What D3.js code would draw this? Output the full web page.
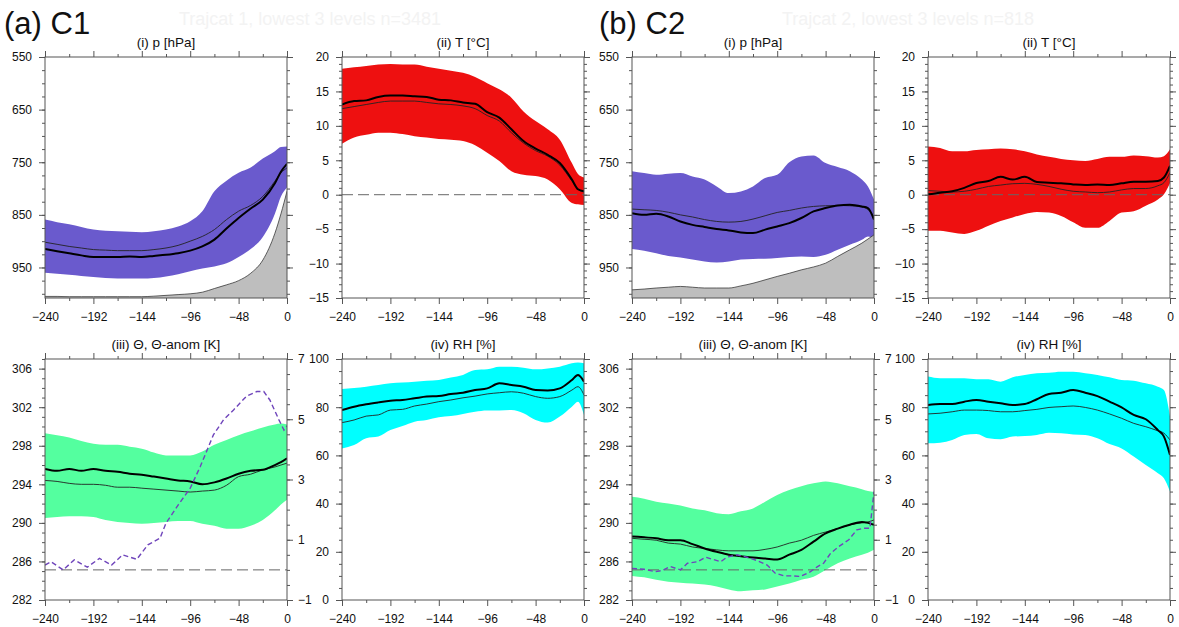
<!DOCTYPE html>
<html>
<head>
<meta charset="utf-8">
<script src="https://cdn.jsdelivr.net/npm/d3@7"></script>
<style>
  body { margin: 0; background: #fff; }
  svg { font-family: "Liberation Sans", Arial, sans-serif; }
</style>
</head>
<body>
<svg id="chart" width="1179" height="627"></svg>
<script>
// hours before arrival
var hours = [-240, -228, -216, -204, -192, -180, -168, -156, -144, -132, -120,
  -108, -96, -84, -72, -60, -48, -36, -24, -12, -6, 0];

// ---- C1 ----
var c1PHi = [859, 864, 868, 873, 878, 880, 881, 882, 883, 881, 878, 872, 862, 843, 805, 785, 770, 760, 743, 729, 721, 720];
var c1PLo = [960, 962, 964, 966, 968, 970, 971, 971, 971, 970, 967, 963, 957, 952, 948, 942, 930, 915, 892, 848, 815, 798];
var c1PMedian = [915, 919, 923, 927, 930, 930, 930, 929, 930, 928, 926, 923, 918, 910, 897, 876, 856, 838, 821, 790, 768, 753];
var c1PMean = [902, 906, 910, 913, 916, 917, 918, 918, 918, 916, 913, 908, 900, 891, 878, 859, 843, 832, 815, 786, 770, 761];
var c1Surf = [1005, 1005, 1005.5, 1005.5, 1005.5, 1005.5, 1005.5, 1005.5, 1005.5, 1004.5, 1003, 1001.5, 1000, 997, 990, 983, 975, 961, 936, 885, 848, 805];

var c1THi = [18.3, 18.5, 18.7, 18.9, 19.0, 18.9, 18.9, 18.6, 18.3, 18.0, 17.7, 17.1, 16.2, 15.3, 14.1, 12.1, 10.7, 9.5, 8.0, 4.6, 3.0, 2.5];
var c1TLo = [7.4, 8.3, 8.7, 9.0, 9.0, 8.8, 8.5, 8.3, 8.1, 8.0, 7.8, 7.2, 6.1, 4.9, 3.4, 2.9, 2.7, 2.2, 0.8, -1.2, -1.4, -1.5];
var c1TMedian = [13.1, 13.6, 13.7, 14.2, 14.4, 14.4, 14.3, 14.2, 13.8, 13.7, 13.4, 13.2, 12.0, 11.2, 9.5, 7.8, 6.7, 5.8, 4.6, 2.2, 0.8, 0.5];
var c1TMean = [12.5, 12.8, 13.1, 13.4, 13.6, 13.6, 13.6, 13.4, 13.2, 13.1, 12.9, 12.5, 11.5, 10.7, 9.0, 7.5, 6.4, 5.6, 4.3, 2.0, 0.8, 0.4];

var c1ThHi = [299.3, 299.1, 298.85, 298.5, 298.2, 298.1, 298.1, 297.9, 297.7, 297.3, 297.0, 297.0, 297.0, 297.4, 298.1, 298.6, 299.1, 299.5, 299.9, 300.2, 300.3, 300.2];
var c1ThLo = [290.5, 290.6, 290.7, 290.7, 290.6, 290.3, 290.1, 290.0, 289.9, 290.0, 290.1, 290.2, 290.2, 289.9, 289.7, 289.4, 289.4, 289.7, 290.3, 291.3, 291.9, 292.4];
var c1ThMedian = [295.6, 295.4, 295.6, 295.4, 295.6, 295.4, 295.3, 295.1, 295.0, 294.8, 294.6, 294.4, 294.3, 294.0, 294.2, 294.6, 295.1, 295.4, 295.5, 296.0, 296.3, 296.7];
var c1ThMean = [294.4, 294.3, 294.1, 294.0, 294.0, 293.9, 293.7, 293.7, 293.6, 293.5, 293.4, 293.3, 293.2, 293.3, 293.4, 293.9, 294.8, 295.05, 295.5, 295.8, 296.0, 296.2];
var c1AnomHours = [-240, -234, -222, -211, -198, -186, -174, -163, -149, -138, -126, -120, -108, -96, -86, -73, -63, -53, -40, -30, -23, -17, -8, -3, 0];
var c1Anom = [0.16, 0.27, 0.0, 0.33, 0.09, 0.38, 0.16, 0.50, 0.35, 0.83, 1.05, 1.55, 2.15, 2.71, 3.43, 4.48, 4.98, 5.31, 5.77, 5.92, 5.92, 5.64, 4.98, 4.64, 4.78];

var c1RhHi = [87.6, 88.0, 88.5, 89.2, 89.9, 90.2, 90.6, 91.0, 91.3, 92.3, 93.4, 95.4, 95.7, 96.8, 96.8, 96.4, 95.7, 96.1, 96.8, 98.2, 98.5, 98.2];
var c1RhLo = [62.9, 64.3, 67.1, 67.8, 70.5, 72.2, 74.0, 74.7, 75.8, 76.3, 77.2, 78.1, 78.6, 78.6, 78.8, 77.5, 74.7, 73.6, 76.1, 80.2, 82.3, 76.8];
var c1RhMedian = [78.8, 80.2, 81.2, 82.0, 82.7, 83.0, 83.7, 84.4, 84.6, 85.5, 86.0, 87.1, 87.8, 89.9, 89.2, 88.5, 87.1, 86.9, 87.8, 91.3, 93.4, 90.6];
var c1RhMean = [73.6, 74.7, 76.3, 76.8, 78.8, 79.1, 80.5, 81.3, 82.3, 83.0, 83.9, 84.6, 85.5, 86.0, 86.4, 85.8, 84.4, 83.7, 84.4, 87.1, 88.5, 85.1];

// ---- C2 ----
var c2PHi = [767, 770.6, 774, 772, 770.6, 777, 783, 796, 808.6, 805.5, 796, 780, 774, 750, 739, 737, 751.6, 759, 767, 783, 796, 821];
var c2PLo = [915, 918, 923, 928, 931, 935, 938.6, 940.5, 938.6, 935, 934, 933.5, 932, 930, 929, 930, 926, 916.4, 907, 897.4, 891, 894];
var c2PMedian = [846.7, 850, 848, 853, 862.5, 869, 873, 877, 879.6, 883.4, 884.7, 878, 872, 865.7, 856, 843.5, 837, 832, 830.6, 834, 837, 859];
var c2PMean = [839, 840.3, 841.6, 845, 850, 854, 859, 862.5, 863.8, 862.5, 858, 851.7, 845.4, 841.6, 837, 834, 832.7, 832, 832.7, 835, 840, 853];
var c2Surf = [992.5, 991, 989, 987.5, 986, 987.5, 989, 989, 989, 985, 980, 973.5, 967, 961, 954.5, 949, 941.8, 929, 916.4, 903.7, 896, 888];

var c2THi = [7.0, 6.8, 6.3, 6.3, 6.5, 6.6, 6.7, 6.6, 6.3, 5.85, 5.5, 5.2, 5.0, 4.9, 5.2, 5.5, 5.5, 5.7, 5.6, 5.4, 5.6, 6.6];
var c2TLo = [-5.25, -5.25, -5.5, -5.7, -5.25, -4.5, -3.8, -3.3, -2.8, -2.5, -2.6, -3.1, -4.0, -4.8, -4.8, -3.8, -2.6, -2.4, -1.6, -0.7, 0.05, 1.7];
var c2TMedian = [0.05, 0.3, 0.5, 1.0, 1.7, 2.0, 2.6, 2.2, 2.6, 1.85, 1.75, 1.65, 1.5, 1.4, 1.5, 1.4, 1.65, 1.9, 1.9, 2.0, 2.5, 4.2];
var c2TMean = [0.6, 0.5, 0.4, 0.5, 0.8, 1.2, 1.4, 1.6, 1.65, 1.5, 1.2, 0.8, 0.5, 0.4, 0.3, 0.4, 0.7, 0.9, 0.9, 1.3, 1.75, 3.2];

var c2ThHi = [292.7, 292.5, 292.2, 292.0, 291.8, 291.5, 291.3, 291.0, 290.9, 291.2, 291.5, 292.2, 292.9, 293.4, 293.8, 294.1, 294.3, 294.1, 293.8, 293.5, 293.3, 293.2];
var c2ThLo = [284.5, 284.35, 284.1, 283.9, 283.8, 283.7, 283.6, 283.4, 283.1, 282.9, 283.0, 283.1, 283.4, 283.7, 284.1, 284.4, 285.1, 285.8, 286.3, 286.7, 286.9, 287.2];
var c2ThMedian = [288.6, 288.5, 288.4, 288.2, 288.2, 287.8, 287.35, 287.0, 286.7, 286.55, 286.4, 286.3, 286.2, 286.7, 287.2, 288.05, 288.9, 289.4, 289.8, 290.1, 290.0, 289.8];
var c2ThMean = [288.4, 288.3, 288.2, 287.9, 287.8, 287.5, 287.35, 287.2, 287.1, 287.1, 287.1, 287.25, 287.5, 287.9, 288.2, 288.7, 289.05, 289.4, 289.8, 290.0, 290.1, 290.3];
var c2AnomHours = [-240, -228, -217, -210, -202, -192, -185, -175, -167, -152, -146, -136, -126, -116, -106, -98, -89, -80, -73, -63, -56, -50, -43, -35, -25, -17, -10, -4, 0];
var c2Anom = [0.05, 0.02, -0.06, -0.02, 0.11, 0.0, 0.22, 0.27, 0.42, 0.27, 0.42, 0.50, 0.42, 0.31, 0.16, -0.11, -0.20, -0.20, -0.22, -0.06, 0.11, 0.22, 0.55, 0.77, 1.0, 1.33, 1.38, 1.38, 2.6];

var c2RhHi = [92.7, 92.0, 92.0, 92.0, 91.6, 91.6, 90.6, 92.4, 93.4, 94.1, 94.3, 94.7, 94.7, 94.1, 93.4, 92.4, 91.3, 91.0, 89.9, 88.5, 87.1, 76.1];
var c2RhLo = [65.0, 65.3, 66.4, 68.5, 68.9, 67.1, 66.7, 67.8, 68.0, 68.5, 69.4, 69.2, 68.7, 68.5, 67.1, 64.7, 62.9, 59.5, 56.0, 52.6, 50.5, 45.0];
var c2RhMedian = [80.9, 81.3, 81.3, 82.3, 83.0, 82.3, 81.6, 80.9, 81.3, 83.3, 85.5, 86.0, 87.1, 86.0, 84.6, 82.3, 79.9, 76.8, 75.0, 70.5, 67.8, 60.2];
var c2RhMean = [77.2, 77.5, 78.1, 78.8, 78.8, 78.6, 78.1, 78.1, 78.6, 79.1, 79.9, 80.2, 80.5, 79.9, 78.8, 77.2, 75.4, 73.3, 71.9, 70.2, 69.2, 66.4];

// axis ticks
var xMajor = [-240, -192, -144, -96, -48, 0];
var xMinor = [-216, -168, -120, -72, -24];
var pTicks = [550, 650, 750, 850, 950];
var tTicks = [-15, -10, -5, 0, 5, 10, 15, 20];
var thTicks = [282, 286, 290, 294, 298, 302, 306];
var anomTicks = [-1, 1, 3, 5, 7];
var rhTicks = [0, 20, 40, 60, 80, 100];

var svg = d3.select('#chart');
var W = 242, H = 241;
var axisColor = '#555';

function minorRange(lo, hi, step) {
  var out = [];
  for (var v = lo; v <= hi + 1e-9; v += step) out.push(+v.toFixed(3));
  return out;
}

function styleAxis(g) {
  g.attr('font-family', null).attr('font-size', null);
  g.select('.domain').remove();
  g.selectAll('line').attr('stroke', axisColor).attr('stroke-width', 1);
  g.selectAll('text').attr('font-size', 12).attr('fill', '#111');
}

function panel(cfg, idx) {
  var g = svg.append('g').attr('transform', 'translate(' + cfg.x + ',' + cfg.y + ')');
  var x = d3.scaleLinear().domain([-240, 0]).range([0, W]);
  var y = d3.scaleLinear().domain(cfg.yDomain).range([H, 0]);

  g.append('text')
    .attr('x', W / 2).attr('y', -10)
    .attr('text-anchor', 'middle')
    .attr('font-size', 13.5)
    .attr('fill', '#111')
    .text(cfg.title);

  var clipId = 'clip' + idx;
  g.append('clipPath').attr('id', clipId)
    .append('rect').attr('width', W).attr('height', H);
  var plot = g.append('g').attr('clip-path', 'url(#' + clipId + ')');

  var band = d3.area()
    .x(function(d) { return x(d); })
    .y0(function(d, i) { return y(cfg.lo[i]); })
    .y1(function(d, i) { return y(cfg.hi[i]); })
    .curve(d3.curveMonotoneX);
  plot.append('path').datum(hours).attr('d', band).attr('fill', cfg.color);

  if (cfg.surf) {
    var surf = d3.area()
      .x(function(d) { return x(d); })
      .y0(H)
      .y1(function(d, i) { return y(cfg.surf[i]); })
      .curve(d3.curveMonotoneX);
    plot.append('path').datum(hours).attr('d', surf).attr('fill', '#bebebe');
    plot.append('path').datum(hours)
      .attr('d', surf.lineY1())
      .attr('fill', 'none').attr('stroke', '#222').attr('stroke-width', 0.7);
  }

  if (cfg.zero !== undefined) {
    var yz = cfg.zeroScale ? cfg.zeroScale : y;
    plot.append('line')
      .attr('x1', 0).attr('x2', W)
      .attr('y1', yz(cfg.zero)).attr('y2', yz(cfg.zero))
      .attr('stroke', '#666').attr('stroke-width', 1)
      .attr('stroke-dasharray', '11,5');
  }

  var line = function(vals) {
    return d3.line()
      .x(function(d) { return x(d); })
      .y(function(d, i) { return y(vals[i]); })
      .curve(d3.curveMonotoneX);
  };
  plot.append('path').datum(hours).attr('d', line(cfg.mean))
    .attr('fill', 'none').attr('stroke', '#222').attr('stroke-width', 0.9);
  plot.append('path').datum(hours).attr('d', line(cfg.median))
    .attr('fill', 'none').attr('stroke', '#000').attr('stroke-width', 2);

  var y2 = null;
  if (cfg.anom) {
    y2 = d3.scaleLinear().domain([-1, 7]).range([H, 0]);
    plot.append('path').datum(cfg.anomHours)
      .attr('d', d3.line()
        .x(function(d) { return x(d); })
        .y(function(d, i) { return y2(cfg.anom[i]); }))
      .attr('fill', 'none').attr('stroke', '#6f45bb')
      .attr('stroke-width', 1.4).attr('stroke-dasharray', '5,3');
  }

  // x axes (bottom labelled, top mirrored)
  var fmt = d3.format('');
  g.append('g').attr('transform', 'translate(0,' + H + ')')
    .call(d3.axisBottom(x).tickValues(xMinor).tickSize(3).tickFormat(''))
    .call(styleAxis);
  g.append('g').attr('transform', 'translate(0,' + H + ')')
    .call(d3.axisBottom(x).tickValues(xMajor).tickSize(6).tickPadding(8).tickFormat(fmt))
    .call(styleAxis);
  g.append('g')
    .call(d3.axisTop(x).tickValues(xMinor).tickSize(3).tickFormat(''))
    .call(styleAxis);
  g.append('g')
    .call(d3.axisTop(x).tickValues(xMajor).tickSize(6).tickFormat(''))
    .call(styleAxis);

  // y axes
  g.append('g')
    .call(d3.axisLeft(y).tickValues(cfg.yMinor).tickSize(3).tickFormat(''))
    .call(styleAxis);
  g.append('g')
    .call(d3.axisLeft(y).tickValues(cfg.yTicks).tickSize(6).tickPadding(7).tickFormat(fmt))
    .call(styleAxis);

  if (y2) {
    g.append('g').attr('transform', 'translate(' + W + ',0)')
      .call(d3.axisRight(y2).tickValues(minorRange(-1, 7, 0.5)).tickSize(3).tickFormat(''))
      .call(styleAxis);
    g.append('g').attr('transform', 'translate(' + W + ',0)')
      .call(d3.axisRight(y2).tickValues(anomTicks).tickSize(6).tickPadding(5).tickFormat(fmt))
      .call(styleAxis);
  } else {
    g.append('g').attr('transform', 'translate(' + W + ',0)')
      .call(d3.axisRight(y).tickValues(cfg.yMinor).tickSize(3).tickFormat(''))
      .call(styleAxis);
    g.append('g').attr('transform', 'translate(' + W + ',0)')
      .call(d3.axisRight(y).tickValues(cfg.yTicks).tickSize(6).tickFormat(''))
      .call(styleAxis);
  }

  g.append('rect')
    .attr('width', W).attr('height', H)
    .attr('fill', 'none').attr('stroke', axisColor).attr('stroke-width', 1);
}

var pDomain = [1008, 550], tDomain = [-15, 20], thDomain = [282, 307], rhDomain = [0, 100];
var pMinor = minorRange(550, 1000, 25), tMinor = minorRange(-15, 20, 1);
var thMinor = minorRange(282, 307, 1), rhMinor = minorRange(0, 100, 5);
var anomScale = d3.scaleLinear().domain([-1, 7]).range([H, 0]);

var panels = [
  { x: 45, y: 57, title: '(i) p [hPa]', yDomain: pDomain, yTicks: pTicks, yMinor: pMinor,
    color: '#6a5acd', hi: c1PHi, lo: c1PLo, median: c1PMedian, mean: c1PMean, surf: c1Surf },
  { x: 342, y: 57, title: '(ii) T [°C]', yDomain: tDomain, yTicks: tTicks, yMinor: tMinor,
    color: '#ee1010', hi: c1THi, lo: c1TLo, median: c1TMedian, mean: c1TMean, zero: 0 },
  { x: 45, y: 359, title: '(iii) Θ, Θ-anom [K]', yDomain: thDomain, yTicks: thTicks, yMinor: thMinor,
    color: '#54ff9f', hi: c1ThHi, lo: c1ThLo, median: c1ThMedian, mean: c1ThMean,
    anom: c1Anom, anomHours: c1AnomHours, zero: 0, zeroScale: anomScale },
  { x: 342, y: 359, title: '(iv) RH [%]', yDomain: rhDomain, yTicks: rhTicks, yMinor: rhMinor,
    color: '#00ffff', hi: c1RhHi, lo: c1RhLo, median: c1RhMedian, mean: c1RhMean },
  { x: 632, y: 57, title: '(i) p [hPa]', yDomain: pDomain, yTicks: pTicks, yMinor: pMinor,
    color: '#6a5acd', hi: c2PHi, lo: c2PLo, median: c2PMedian, mean: c2PMean, surf: c2Surf },
  { x: 928, y: 57, title: '(ii) T [°C]', yDomain: tDomain, yTicks: tTicks, yMinor: tMinor,
    color: '#ee1010', hi: c2THi, lo: c2TLo, median: c2TMedian, mean: c2TMean, zero: 0 },
  { x: 632, y: 359, title: '(iii) Θ, Θ-anom [K]', yDomain: thDomain, yTicks: thTicks, yMinor: thMinor,
    color: '#54ff9f', hi: c2ThHi, lo: c2ThLo, median: c2ThMedian, mean: c2ThMean,
    anom: c2Anom, anomHours: c2AnomHours, zero: 0, zeroScale: anomScale },
  { x: 928, y: 359, title: '(iv) RH [%]', yDomain: rhDomain, yTicks: rhTicks, yMinor: rhMinor,
    color: '#00ffff', hi: c2RhHi, lo: c2RhLo, median: c2RhMedian, mean: c2RhMean }
];

panels.forEach(panel);

// figure labels
svg.append('text').attr('x', 4).attr('y', 34)
  .attr('font-size', 31).attr('fill', '#111').text('(a) C1');
svg.append('text').attr('x', 599).attr('y', 34)
  .attr('font-size', 31).attr('fill', '#111').text('(b) C2');
svg.append('text').attr('x', 310).attr('y', 25).attr('text-anchor', 'middle')
  .attr('font-size', 18).attr('fill', '#f3f3f3').text('Trajcat 1, lowest 3 levels n=3481');
svg.append('text').attr('x', 908).attr('y', 25).attr('text-anchor', 'middle')
  .attr('font-size', 18).attr('fill', '#f3f3f3').text('Trajcat 2, lowest 3 levels n=818');
</script>
</body>
</html>
